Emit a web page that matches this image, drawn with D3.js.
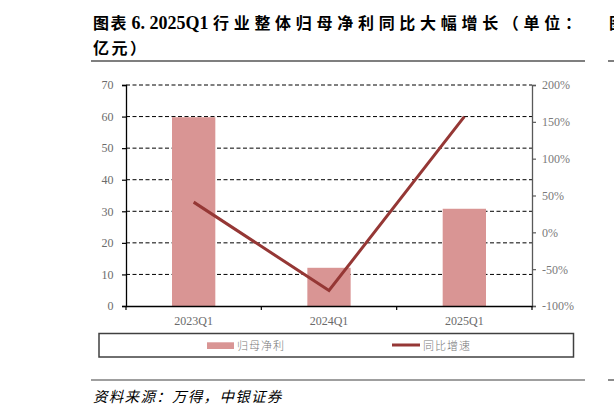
<!DOCTYPE html>
<html><head><meta charset="utf-8">
<script src="https://cdn.jsdelivr.net/npm/d3@7/dist/d3.min.js"></script>
<style>
html,body{margin:0;padding:0;background:#fff;}
svg{display:block;}
</style>
</head><body>
<svg id="c" width="614" height="412"></svg>
<script>
const categories = ["2023Q1", "2024Q1", "2025Q1"];
const netProfit = [59.8, 12.1, 30.8];          // 归母净利（亿元）
const yoyGrowth = [0.41, -0.79, 1.57];         // 同比增速
const leftTicks = [0, 10, 20, 30, 40, 50, 60, 70];
const rightTicks = [-1, -0.5, 0, 0.5, 1, 1.5, 2];
const seriesNames = ["归母净利", "同比增速"];
const titleLine1a = "图表";
const titleLine1b = "6. 2025Q1";
const titleLine1c = "行业整体归母净利同比大幅增长（单位：";
const titleLine2 = "亿元）";
const sourceText = "资料来源：万得，中银证券";

const svg = d3.select("#c");
const L = 126, R = 532, B = 306, T = 85;
const serif = "'Liberation Serif','Times New Roman',serif";
const cjk = "'Noto Sans CJK SC','Noto Sans',sans-serif";
const barColor = "#D99594", lineColor = "#953735", labelColor = "#6b6b6b";

const x = d3.scaleBand().domain(categories).range([L, R]).padding(0);
const yL = d3.scaleLinear().domain([0, 70]).range([B, T]);
const yR = d3.scaleLinear().domain([-1, 2]).range([B, T]);

// Title
svg.append("text").attr("x", 93).attr("y", 29).attr("font-weight", "bold")
  .attr("font-family", cjk).attr("font-size", 16).attr("letter-spacing", 1.5).text(titleLine1a);
svg.append("text").attr("x", 131.5).attr("y", 29).attr("font-weight", "bold")
  .attr("font-family", serif).attr("font-size", 18).text(titleLine1b);
svg.append("text").attr("x", 213).attr("y", 29).attr("font-weight", "bold")
  .attr("font-family", cjk).attr("font-size", 16)
  .attr("textLength", 368).attr("lengthAdjust", "spacing").text(titleLine1c);
svg.append("text").attr("x", 93).attr("y", 54).attr("font-weight", "bold")
  .attr("font-family", cjk).attr("font-size", 16).attr("letter-spacing", 2.5).text(titleLine2);
svg.append("line").attr("x1", 91).attr("x2", 585).attr("y1", 61).attr("y2", 61)
  .attr("stroke", "#7f7f7f").attr("stroke-width", 2);
// right-edge fragments of neighbouring figure
svg.append("text").attr("x", 609).attr("y", 29).attr("font-weight", "bold")
  .attr("font-family", cjk).attr("font-size", 16).text("图");
svg.append("line").attr("x1", 608).attr("x2", 614).attr("y1", 61).attr("y2", 61)
  .attr("stroke", "#7f7f7f").attr("stroke-width", 2);
svg.append("line").attr("x1", 608).attr("x2", 614).attr("y1", 380).attr("y2", 380)
  .attr("stroke", "#404040").attr("stroke-width", 1.2);

// Gridlines
svg.append("g").selectAll("line").data(leftTicks.filter(d => d > 0)).join("line")
  .attr("x1", L).attr("x2", R).attr("y1", d => yL(d)).attr("y2", d => yL(d))
  .attr("stroke", "#000").attr("stroke-width", 1).attr("stroke-dasharray", "4,2.5");

// Bars
const bw = x.bandwidth() * 0.32;
svg.append("g").selectAll("rect").data(categories).join("rect")
  .attr("x", d => x(d) + x.bandwidth() / 2 - bw / 2)
  .attr("width", bw)
  .attr("y", (d, i) => yL(netProfit[i]))
  .attr("height", (d, i) => yL(0) - yL(netProfit[i]))
  .attr("fill", barColor);

// Left axis
const gL = svg.append("g").attr("transform", `translate(${L},0)`)
  .call(d3.axisLeft(yL).tickValues(leftTicks).tickSize(4).tickPadding(8.5).tickFormat(d3.format("d")));
gL.select(".domain").attr("stroke", "#000").attr("stroke-width", 1.3);
gL.selectAll(".tick line").attr("stroke", "#000").attr("stroke-width", 1.2);
gL.selectAll(".tick text").attr("font-family", serif).attr("font-size", 12).attr("fill", labelColor);

// Right axis
const gR = svg.append("g").attr("transform", `translate(${R},0)`)
  .call(d3.axisRight(yR).tickValues(rightTicks).tickSize(4).tickPadding(6).tickFormat(d3.format(".0%")));
gR.select(".domain").attr("stroke", "#595959").attr("stroke-width", 1.3);
gR.selectAll(".tick line").attr("stroke", "#595959").attr("stroke-width", 1.2);
gR.selectAll(".tick text").attr("font-family", serif).attr("font-size", 12).attr("fill", "#7a7a7a")
  .text(d => d3.format(".0%")(d).replace("−", "-"));

// Bottom axis
const gB = svg.append("g").attr("transform", `translate(0,${B})`)
  .call(d3.axisBottom(x).tickSize(0).tickPadding(10));
gB.select(".domain").attr("stroke", "#000").attr("stroke-width", 1.3);
gB.selectAll(".tick text").attr("font-family", serif).attr("font-size", 12).attr("fill", labelColor);
const bounds = categories.map(c => x(c)).concat([R]);
gB.selectAll("line.bt").data(bounds).join("line").attr("class", "bt")
  .attr("x1", d => d).attr("x2", d => d).attr("y1", 0).attr("y2", 4)
  .attr("stroke", "#000").attr("stroke-width", 1.2);

// Line
const line = d3.line().x(d => x(d.c) + x.bandwidth() / 2).y(d => yR(d.v));
svg.append("path").datum(categories.map((c, i) => ({ c, v: yoyGrowth[i] })))
  .attr("d", line).attr("fill", "none").attr("stroke", lineColor).attr("stroke-width", 3);

// Legend
svg.append("rect").attr("x", 99).attr("y", 333.5).attr("width", 474.5).attr("height", 23.5)
  .attr("fill", "none").attr("stroke", "#404040").attr("stroke-width", 1.5);
svg.append("rect").attr("x", 207).attr("y", 342.3).attr("width", 27).attr("height", 6.7).attr("fill", barColor);
svg.append("text").attr("x", 237).attr("y", 349.5).attr("font-family", cjk).attr("font-size", 11)
  .attr("font-weight", 300).attr("letter-spacing", 1).attr("fill", "#777").text(seriesNames[0]);
svg.append("line").attr("x1", 392).attr("x2", 420).attr("y1", 345).attr("y2", 345)
  .attr("stroke", lineColor).attr("stroke-width", 3);
svg.append("text").attr("x", 423).attr("y", 349.5).attr("font-family", cjk).attr("font-size", 11)
  .attr("font-weight", 300).attr("letter-spacing", 1).attr("fill", "#777").text(seriesNames[1]);

// Source
svg.append("line").attr("x1", 91).attr("x2", 585).attr("y1", 380).attr("y2", 380)
  .attr("stroke", "#404040").attr("stroke-width", 1.2);
svg.append("text").attr("x", 93).attr("y", 402).attr("font-family", cjk).attr("font-size", 14.5)
  .attr("font-style", "italic").attr("letter-spacing", 1.3).attr("fill", "#000").text(sourceText);
</script>
</body></html>
